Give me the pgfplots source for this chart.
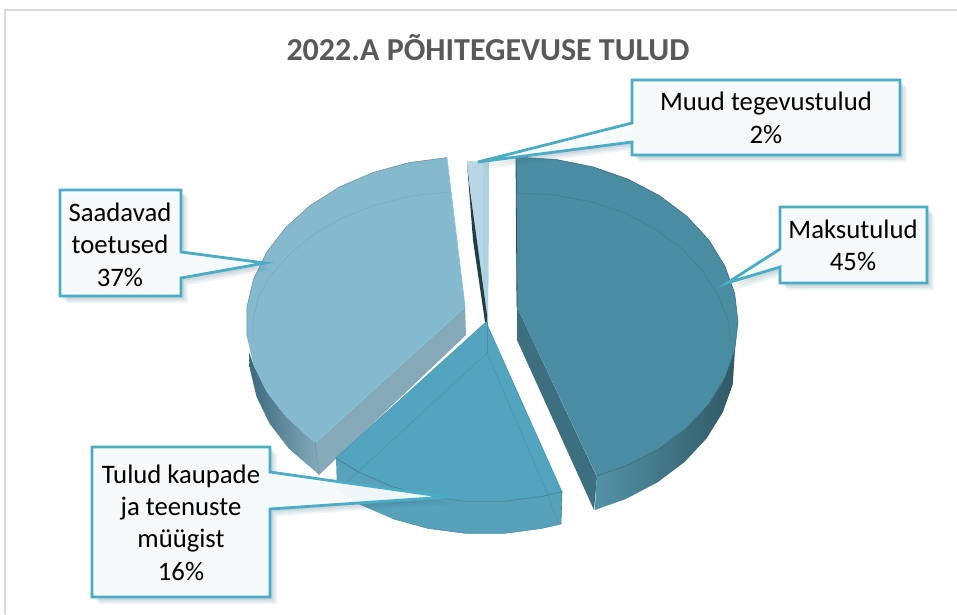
\documentclass[border=0pt]{standalone}
\usepackage{fontspec}
\setmainfont{Carlito}
\usepackage{pgfplots}
\usepackage{pgfplotstable}
\pgfplotsset{compat=1.18}
\definecolor{frame}{HTML}{D9D9D9}
\definecolor{cbord}{HTML}{4BACC6}
\definecolor{cfill}{HTML}{F7FBFC}
\definecolor{shad}{HTML}{3F6F85}
\definecolor{ltop}{HTML}{85B9CE}
\definecolor{bback}{HTML}{85A9B9}
\definecolor{btop}{HTML}{53A4BE}
\definecolor{bwall}{HTML}{57A1BA}
\definecolor{rtop}{HTML}{4A8CA1}
\definecolor{rin}{HTML}{3C6F80}
\pgfplotstableread{
x y
632 80
900 80
900 155
632 155
632 142
478 162
632 123
}\calloutA
\pgfplotstableread{
x y
60 190
181 190
181 252
265 263
181 278
181 296
60 296
}\calloutB
\pgfplotstableread{
x y
780 207
927 207
927 283
780 283
780 267
727 283
780 249
}\calloutC
\pgfplotstableread{
x y
92 447
270 447
270 472
447 497
270 509
270 597
92 597
}\calloutD
\newcommand{\callout}[1]{%
  \addplot[draw=none,fill=shad,fill opacity=.10,xshift=3pt,yshift=-3pt] table {#1} --cycle;
  \addplot[draw=none,fill=shad,fill opacity=.10,xshift=5pt,yshift=-5pt] table {#1} --cycle;
  \addplot[draw=none,fill=shad,fill opacity=.08,xshift=7pt,yshift=-7pt] table {#1} --cycle;
  \addplot[draw=cbord,line width=2.8pt,fill=cfill,fill opacity=.96,line join=miter] table {#1} --cycle;
}
\begin{document}
\begin{tikzpicture}
\begin{axis}[
  scale only axis, width=957pt, height=614pt,
  xmin=0, xmax=957, ymin=0, ymax=614, y dir=reverse,
  hide axis,
]
\addplot[draw=none,fill=white] coordinates {(0,0)(957,0)(957,614)(0,614)} --cycle;
\addplot[draw=frame,line width=2pt] coordinates {(5,614)(5,10)(957,10)};

% small slice (2%)
\addplot[draw=none,fill=ltop!58!white] coordinates {(467,161)(489,162)(488,322)(486,322)} --cycle;
\addplot[draw=none,fill=ltop!66!white] coordinates {(483,162)(489,162)(488,322)(486,322)(483,300)} --cycle;
\addplot[draw=none,fill=rin!55!black] coordinates {(467,163)(470,190)(487,315)(487,322)(485,322)(473,240)} --cycle;

% left slice (37%) wall
\addplot[draw=none,left color=shad!95!black,right color=ltop!75!gray] coordinates {
 (249,352)(253.5,364.7)(266.6,391.7)(285.8,416.6)(310.4,438.7)(316,442.7)
 (319,474.7)(288.8,448.6)(269.6,423.7)(256.5,396.7)(249.8,368.4)} --cycle;
\addplot[draw=none,fill=bback] coordinates {(465,307)(466,335)(319,475)(315,441)} --cycle;
\addplot[draw=ltop!75!black,line width=.4pt] coordinates {(315,441)(319,475)};
% left slice top
\addplot[draw=none,fill=ltop] coordinates {
 (446.8,157.6)(409.1,162.6)(373,172.5)(339.8,186.8)(310.4,205.3)(285.8,227.4)(266.6,252.3)
 (253.5,279.3)(246.8,307.6)(246.8,336.4)(253.5,364.7)(266.6,391.7)(285.8,416.6)(310.4,438.7)(316,442.7)
 (465,307)} --cycle;
\addplot[draw=ltop!75!black,line width=.5pt] coordinates {
 (446.8,157.6)(409.1,162.6)(373,172.5)(339.8,186.8)(310.4,205.3)(285.8,227.4)(266.6,252.3)
 (253.5,279.3)(246.8,307.6)(246.8,336.4)};
\addplot[draw=ltop!90!black,line width=.4pt] coordinates {
 (448,192)(410,196)(375,205)(342,218)(313,235)(290,254)(270,276)(258,298)(253,322)(253,340)};
\addplot[draw=cbord!70!white,line width=.8pt] coordinates {(447,158)(465,307)(316,442)};

% bottom slice (16%)
\addplot[draw=none,fill=bwall] coordinates {
 (336,458)(337,490)(358.8,504.2)(392,518.5)(428,528.4)(465.8,533.4)(504.2,533.4)(541.9,528.4)(561,524)(562,491.6)
 (541.9,496.4)(504.2,501.4)(465.8,501.4)(428,496.4)(392,486.5)(358.8,472.2)} --cycle;
\addplot[draw=none,fill=btop] coordinates {
 (486,322)(335.5,458)(358.8,472.2)(392,486.5)(428,496.4)(465.8,501.4)(504.2,501.4)(541.9,496.4)(562,491.6)} --cycle;
\addplot[draw=cbord!90!black,line width=.6pt] coordinates {(336,458)(486,322)(562,492)};
\addplot[draw=btop!75!black,line width=.6pt] coordinates {
 (336,458)(358.8,472.2)(392,486.5)(428,496.4)(465.8,501.4)(504.2,501.4)(541.9,496.4)(562,491.6)(561,524)};
\addplot[draw=btop!88!black,line width=.4pt] coordinates {(347,482)(358,472)(487,353)(548,495)(558,523)};
\addplot[draw=btop!88!black,line width=.4pt] coordinates {(487,322)(487,353)};
\addplot[draw=bwall!85!black,line width=.5pt] coordinates {
 (392,518.5)(428,528.4)(465.8,533.4)(504.2,533.4)(541.9,528.4)(561,524)};

% right slice (45%)
\addplot[draw=none,fill=rin] coordinates {(517,307)(517,340)(594,510)(597,477)} --cycle;
\addplot[draw=none,left color=rtop!95!white,right color=rin!80!black] coordinates {
 (596.8,476)(594.8,510)(626,498.9)(657.4,482.4)(684.5,462.1)(706.5,438.5)(722.7,412.4)(732.7,384.6)(735,349)
 (724.7,378.4)(708.5,404.5)(686.5,428.1)(659.4,448.4)(628,464.9)} --cycle;
\addplot[draw=none,fill=rtop] coordinates {
 (516,157)(556.2,159.5)(593.2,166.9)(628,179.1)(659.4,195.6)(686.5,215.9)(708.5,239.5)(724.7,265.6)(734.7,293.4)
 (738,322)(734.7,350.6)(724.7,378.4)(708.5,404.5)(686.5,428.1)(659.4,448.4)(628,464.9)(596.8,476)(517,307)} --cycle;
\addplot[draw=rin!90!black,line width=.5pt] coordinates {
 (516,157)(556.2,159.5)(593.2,166.9)(628,179.1)(659.4,195.6)(686.5,215.9)(708.5,239.5)(724.7,265.6)(734.7,293.4)
 (738,322)(734.7,350.6)(724.7,378.4)(708.5,404.5)(686.5,428.1)(659.4,448.4)(628,464.9)(596.8,476)};
\addplot[draw=rin!70!black,line width=.8pt] coordinates {(516,157)(517,307)};
\addplot[draw=rin!70!rtop,line width=.4pt] coordinates {
 (517,193)(555,195)(592,202)(625,213)(655,229)(680,247)(702,270)(718,295)(728,320)(731,342)};

% callouts
\callout{\calloutA}
\callout{\calloutB}
\callout{\calloutC}
\callout{\calloutD}

\newcommand{\lab}[3]{\node[anchor=base,inner sep=0pt,text=black] at (axis cs:#1,#2) {\fontsize{26.7}{30}\selectfont #3};}
\node[anchor=base,inner sep=0pt,text=black!65] at (axis cs:488,60) {\fontsize{32}{36}\selectfont\bfseries 2022.A PÕHITEGEVUSE TULUD};
\lab{766}{110}{Muud tegevustulud}
\lab{766}{143}{2\%}
\lab{853}{238}{Maksutulud}
\lab{853}{270}{45\%}
\lab{120}{221}{Saadavad}
\lab{120}{253}{toetused}
\lab{120}{286}{37\%}
\lab{181}{483}{Tulud kaupade}
\lab{181}{515}{ja teenuste}
\lab{181}{547}{müügist}
\lab{181}{580}{16\%}
\end{axis}
\end{tikzpicture}
\end{document}
